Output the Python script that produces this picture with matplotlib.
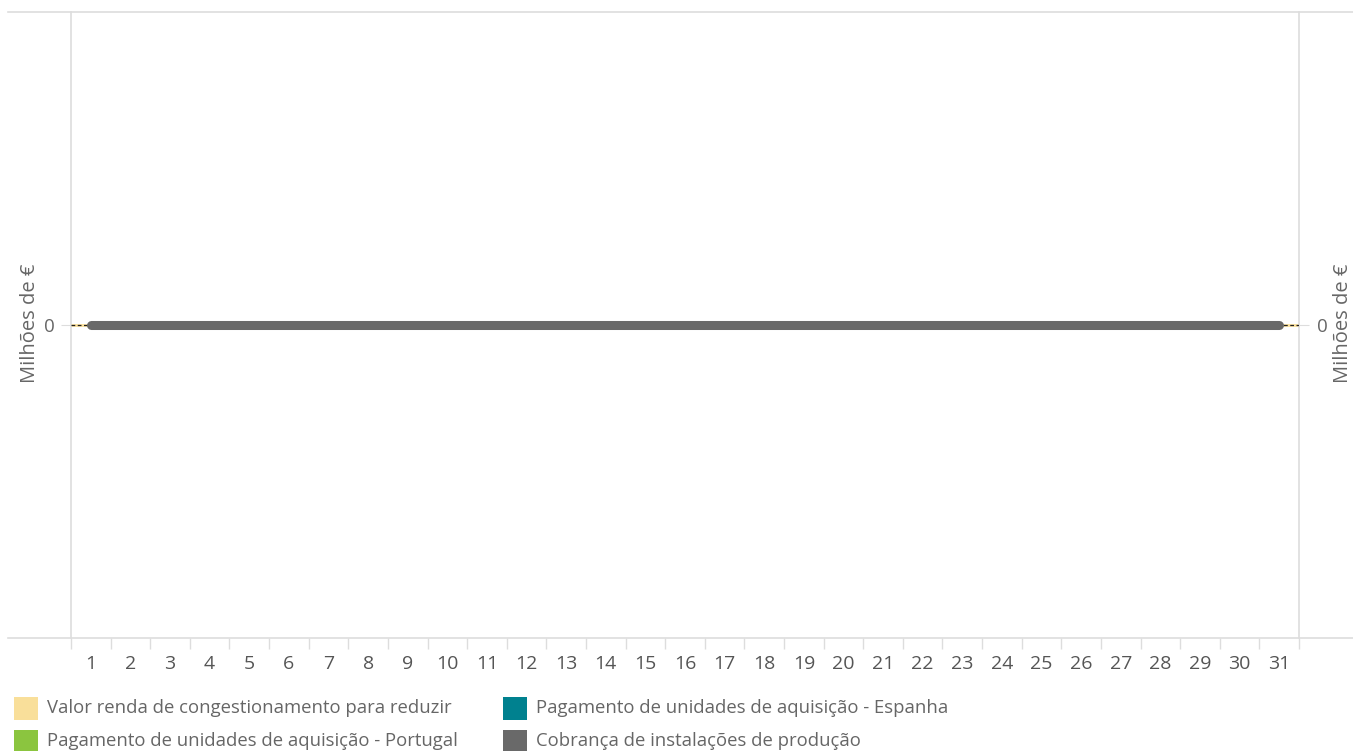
import matplotlib
matplotlib.use("Agg")
import matplotlib.pyplot as plt
from matplotlib.patches import Rectangle
from matplotlib.lines import Line2D
import numpy as np

plt.rcParams['font.family'] = ['Open Sans', 'DejaVu Sans']

days = list(range(1, 32))
renda_congestionamento = [0] * 31
pagamento_portugal = [0] * 31
pagamento_espanha = [0] * 31
cobranca_producao = [0] * 31

legend_labels = [
    "Valor renda de congestionamento para reduzir",
    "Pagamento de unidades de aquisição - Portugal",
    "Pagamento de unidades de aquisição - Espanha",
    "Cobrança de instalações de produção",
]
colors = ["#F9DF9A", "#8BC53F", "#00818F", "#696969"]
y_title = "Milhões de €"

W, H = 1353, 751
AX_L, AX_R, AX_T, AX_B = 71, 1299, 12, 638
fig = plt.figure(figsize=(W / 100, H / 100), dpi=100)
ax = fig.add_axes([AX_L / W, 1 - AX_B / H, (AX_R - AX_L) / W, (AX_B - AX_T) / H])

ax.plot([0.5] + days + [31.5], [0] + renda_congestionamento + [0],
        color=colors[0], lw=2, zorder=2)
ax.plot(days, pagamento_portugal, color=colors[1], lw=2, zorder=2)
ax.plot(days, pagamento_espanha, color=colors[2], lw=2, zorder=2)
ax.axhline(0, color="#222222", lw=0.9, ls=(0, (3, 2)), zorder=3)
ax.plot(days, cobranca_producao, color=colors[3], lw=6.5,
        solid_capstyle="round", zorder=4)

ax.set_xlim(0.5, 31.5)
ax.set_ylim(-1, 1)
ax.set_yticks([0])
ax.set_yticklabels(["0"])
ax.tick_params(axis="y", length=7, color="#DDDDDD", labelsize=13.5,
               labelcolor="#666666", pad=5)

ax.set_xticks(days)
ax.set_xticklabels([str(d) for d in days], fontsize=14, color="#555555")
ax.tick_params(axis="x", which="major", length=0, pad=12)
ax.set_xticks(np.arange(0.5, 32, 1), minor=True)
ax.tick_params(axis="x", which="minor", length=8, color="#DDDDDD", width=1)

for side in ["top", "bottom"]:
    ax.spines[side].set_visible(False)
for side in ["left", "right"]:
    ax.spines[side].set_color("#DDDDDD")
    ax.spines[side].set_linewidth(1.2)

ax2 = ax.twinx()
ax2.set_ylim(-1, 1)
ax2.set_yticks([0])
ax2.set_yticklabels(["0"])
ax2.tick_params(axis="y", length=7, color="#DDDDDD", labelsize=13.5,
                labelcolor="#666666", pad=6)
for s in ax2.spines.values():
    s.set_visible(False)

# axis titles
ymid = 1 - 323 / H
fig.text(30 / W, ymid, y_title, rotation=90, fontsize=14.5, color="#666666",
         ha="center", va="center")
fig.text(1343 / W, ymid, y_title, rotation=90, fontsize=14.5, color="#666666",
         ha="center", va="center")

# horizontal frame lines
fig.add_artist(Line2D([8 / W, 1], [1 - AX_T / H, 1 - AX_T / H], color="#DDDDDD", lw=1.2))
fig.add_artist(Line2D([8 / W, 1], [1 - AX_B / H, 1 - AX_B / H], color="#DDDDDD", lw=1.2))

# legend
items = [(14, 708, 0), (14, 741, 1), (503, 708, 2), (503, 741, 3)]
for px, py, i in items:
    fig.add_artist(Rectangle((px / W, 1 - (py + 12) / H), 24 / W, 23 / H,
                             transform=fig.transFigure, color=colors[i], lw=0))
    fig.text((px + 33) / W, 1 - py / H, legend_labels[i], fontsize=13.3,
             color="#666666", va="center", ha="left")

fig.savefig("out.png", dpi=100)
